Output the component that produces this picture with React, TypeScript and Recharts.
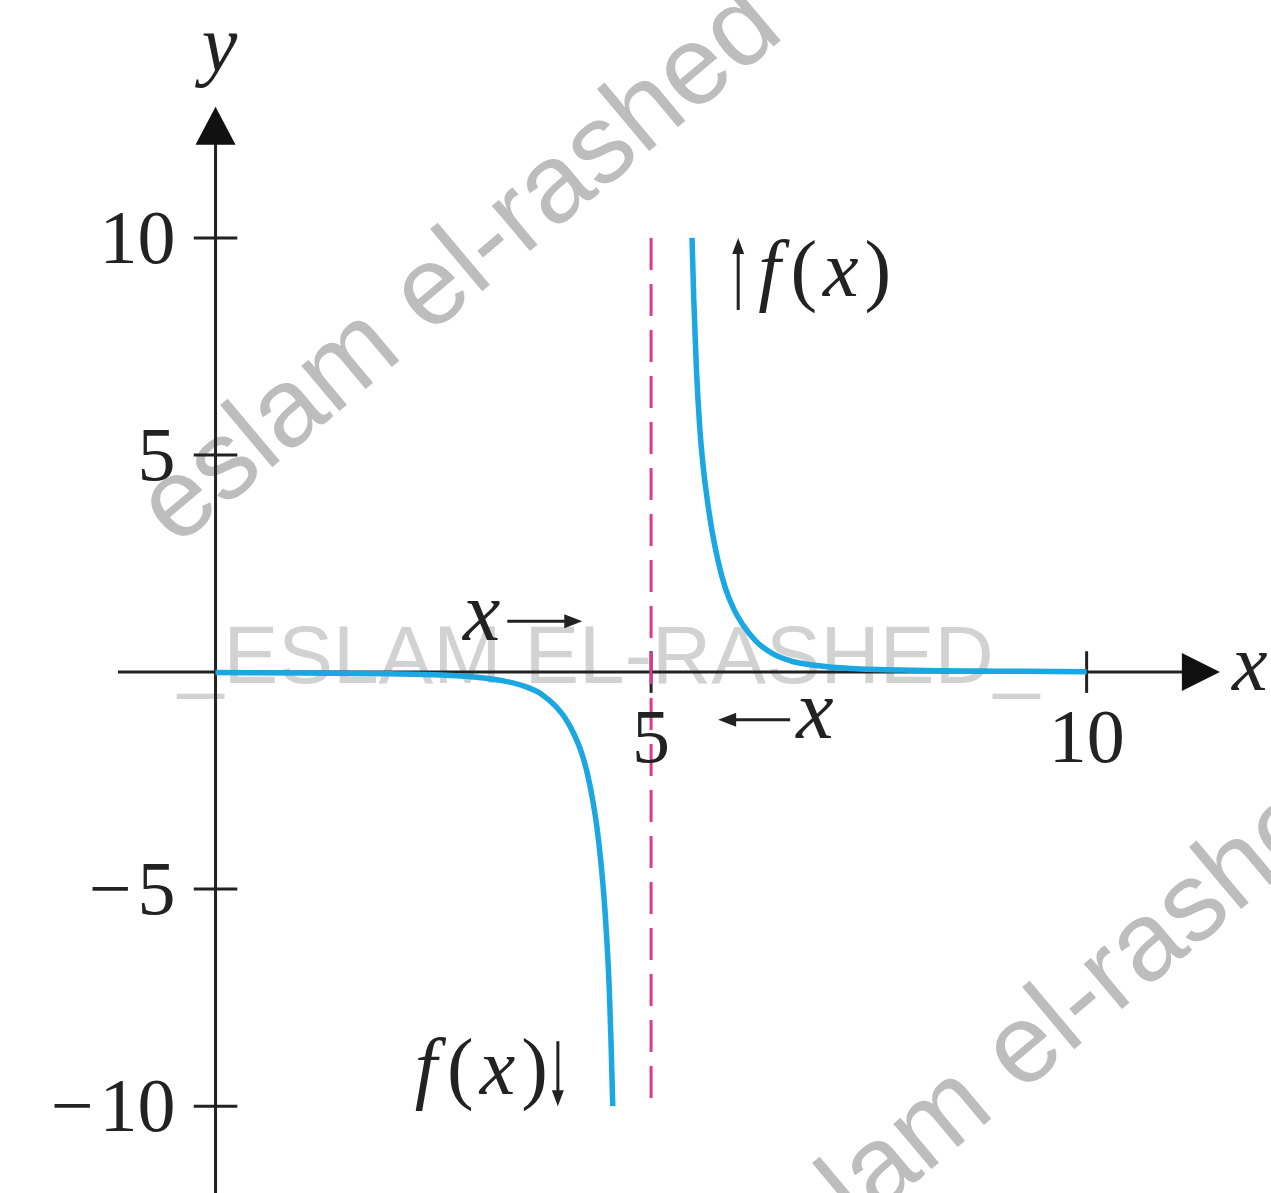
import React from "react";
import { ComposedChart, Line, XAxis, YAxis, ReferenceLine, ReferenceDot } from "recharts";

const W = 1271;
const H = 1193;

// branch left of the asymptote (x < 5)
const leftX = [0, 1, 2, 2.6, 3.0, 3.3, 3.55, 3.75, 3.9, 4.02, 4.12, 4.2, 4.27, 4.33, 4.38, 4.42, 4.46, 4.49, 4.52, 4.54, 4.56];
const leftY = [-0.01, -0.02, -0.04, -0.07, -0.12, -0.2, -0.33, -0.52, -0.78, -1.08, -1.45, -1.85, -2.35, -2.95, -3.6, -4.3, -5.2, -6.1, -7.3, -8.5, -10];
// branch right of the asymptote (x > 5)
const rightX = [5.47, 5.49, 5.52, 5.56, 5.6, 5.65, 5.7, 5.77, 5.85, 5.95, 6.05, 6.2, 6.4, 6.6, 6.9, 7.3, 8, 9, 10];
const rightY = [10, 8.6, 7.0, 5.6, 4.7, 3.9, 3.25, 2.55, 1.95, 1.45, 1.1, 0.72, 0.42, 0.26, 0.15, 0.08, 0.04, 0.02, 0.01];

const xTicks = [5, 10];
const yTicks = [10, 5, -5, -10];
const asymptoteX = 5;

const leftData = leftX.map((x, i) => ({ x, y: leftY[i] }));
const rightData = rightX.map((x, i) => ({ x, y: rightY[i] }));

const MATH = "'Liberation Serif', 'Times New Roman', serif";
const INK = "#222";
const CURVE = "#1ba7e1";
const DASH = "#e0388c";

const TickText = ({ x, y, v, anchor }: { x: number; y: number; v: number; anchor: "middle" | "end" }) => (
  <text x={x} y={y} textAnchor={anchor} fontFamily={MATH} fontSize={76} fill={INK}>
    {v < 0 ? (
      <>
        <tspan>{"\u2212"}</tspan>
        <tspan dx={6}>{-v}</tspan>
      </>
    ) : (
      `${v}`
    )}
  </text>
);

const FX = ({ x, y, anchor }: { x: number; y: number; anchor: "start" | "end" }) => (
  <text x={x} y={y} textAnchor={anchor} fontFamily={MATH} fontSize={80} fill={INK} letterSpacing={6}>
    <tspan fontStyle="italic">f</tspan>
    <tspan dx={4}>(</tspan>
    <tspan fontStyle="italic">x</tspan>
    <tspan>)</tspan>
  </text>
);

function Watermarks() {
  const wm = { fontFamily: "'Liberation Sans', Arial, sans-serif", fill: "#bdbdbd" };
  return (
    <svg width={W} height={H} style={{ position: "absolute", left: 0, top: 0 }}>
      <text x={176} y={548} fontSize={112} transform="rotate(-40 176 548)" {...wm}>eslam el-rashed</text>
      <text x={768} y={1306} fontSize={112} transform="rotate(-40 768 1306)" {...wm}>eslam el-rashed</text>
      <text x={178} y={683} fontSize={82} fill="#c8c8c8" fontFamily="'Liberation Sans', Arial, sans-serif" opacity={0.8}>
        _ESLAM EL-RASHED_
      </text>
    </svg>
  );
}

export default function App() {
  return (
    <div style={{ position: "absolute", left: 0, top: 0, width: W, height: H, background: "#fff" }}>
      <Watermarks />
      <div style={{ position: "absolute", left: 0, top: 0 }}>
        <ComposedChart width={W} height={H} margin={{ top: 86, right: 45, bottom: 0, left: 111 }}>
          <XAxis type="number" dataKey="x" domain={[-1.2, 11.6]} allowDataOverflow hide />
          <YAxis type="number" dataKey="y" domain={[-12, 13.5]} allowDataOverflow hide />

          {/* axes */}
          <ReferenceLine segment={[{ x: -1.12, y: 0 }, { x: 11.12, y: 0 }]} stroke={INK} strokeWidth={3} />
          <ReferenceLine segment={[{ x: 0, y: -12 }, { x: 0, y: 12.2 }]} stroke={INK} strokeWidth={3} />
          {xTicks.map((v) => (
            <ReferenceLine key={`xt${v}`} segment={[{ x: v, y: -0.48 }, { x: v, y: 0.48 }]} stroke={INK} strokeWidth={3} />
          ))}
          {yTicks.map((v) => (
            <ReferenceLine key={`yt${v}`} segment={[{ x: -0.25, y: v }, { x: 0.25, y: v }]} stroke={INK} strokeWidth={3} />
          ))}
          {xTicks.map((v) => (
            <ReferenceDot key={`xl${v}`} x={v} y={0} r={0} shape={(p: any) => (
              <TickText x={p.cx} y={p.cy + 90} v={v} anchor="middle" />
            )} />
          ))}
          {yTicks.map((v) => (
            <ReferenceDot key={`yl${v}`} x={0} y={v} r={0} shape={(p: any) => (
              <TickText x={p.cx - 40} y={p.cy + 25} v={v} anchor="end" />
            )} />
          ))}
          {/* arrow heads and axis names */}
          <ReferenceDot x={11.53} y={0} r={0} shape={(p: any) => (
            <g>
              <polygon points={`${p.cx},${p.cy} ${p.cx - 38},${p.cy - 19} ${p.cx - 38},${p.cy + 19}`} fill="#111" />
              <text x={p.cx + 12} y={p.cy + 18} fontFamily={MATH} fontStyle="italic" fontSize={80} fill={INK}>x</text>
            </g>
          )} />
          <ReferenceDot x={0} y={13.02} r={0} shape={(p: any) => (
            <g>
              <polygon points={`${p.cx},${p.cy} ${p.cx - 20},${p.cy + 38} ${p.cx + 20},${p.cy + 38}`} fill="#111" />
              <text x={p.cx + 4} y={p.cy - 36} textAnchor="middle" fontFamily={MATH} fontStyle="italic" fontSize={80} fill={INK}>y</text>
            </g>
          )} />

          {/* vertical asymptote */}
          <ReferenceLine segment={[{ x: asymptoteX, y: 10 }, { x: asymptoteX, y: -10 }]} stroke={DASH} strokeWidth={3} strokeDasharray="32 14" />

          <Line data={leftData} dataKey="y" type="monotone" stroke={CURVE} strokeWidth={5.5} dot={false} isAnimationActive={false} />
          <Line data={rightData} dataKey="y" type="monotone" stroke={CURVE} strokeWidth={5.5} dot={false} isAnimationActive={false} />

          {/* annotations */}
          <ReferenceDot x={6.0} y={10} r={0} shape={(p: any) => (
            <g>
              <line x1={p.cx} y1={p.cy + 72} x2={p.cx} y2={p.cy + 12} stroke={INK} strokeWidth={3} />
              <polygon points={`${p.cx},${p.cy} ${p.cx - 6},${p.cy + 16} ${p.cx + 6},${p.cy + 16}`} fill={INK} />
              <FX x={p.cx + 20} y={p.cy + 58} anchor="start" />
            </g>
          )} />
          <ReferenceDot x={3.93} y={-10} r={0} shape={(p: any) => (
            <g>
              <line x1={p.cx} y1={p.cy - 65} x2={p.cx} y2={p.cy - 12} stroke={INK} strokeWidth={3} />
              <polygon points={`${p.cx},${p.cy} ${p.cx - 6},${p.cy - 16} ${p.cx + 6},${p.cy - 16}`} fill={INK} />
              <FX x={p.cx - 4} y={p.cy - 12} anchor="end" />
            </g>
          )} />
          <ReferenceDot x={4.21} y={1.17} r={0} shape={(p: any) => (
            <g>
              <line x1={p.cx - 75} y1={p.cy} x2={p.cx - 14} y2={p.cy} stroke={INK} strokeWidth={3} />
              <polygon points={`${p.cx},${p.cy} ${p.cx - 18},${p.cy - 7} ${p.cx - 18},${p.cy + 7}`} fill={INK} />
              <text x={p.cx - 82} y={p.cy + 19} textAnchor="end" fontFamily={MATH} fontStyle="italic" fontSize={84} fill={INK}>x</text>
            </g>
          )} />
          <ReferenceDot x={5.77} y={-1.1} r={0} shape={(p: any) => (
            <g>
              <line x1={p.cx + 14} y1={p.cy} x2={p.cx + 72} y2={p.cy} stroke={INK} strokeWidth={3} />
              <polygon points={`${p.cx},${p.cy} ${p.cx + 18},${p.cy - 7} ${p.cx + 18},${p.cy + 7}`} fill={INK} />
              <text x={p.cx + 78} y={p.cy + 18} fontFamily={MATH} fontStyle="italic" fontSize={84} fill={INK}>x</text>
            </g>
          )} />
        </ComposedChart>
      </div>
    </div>
  );
}
